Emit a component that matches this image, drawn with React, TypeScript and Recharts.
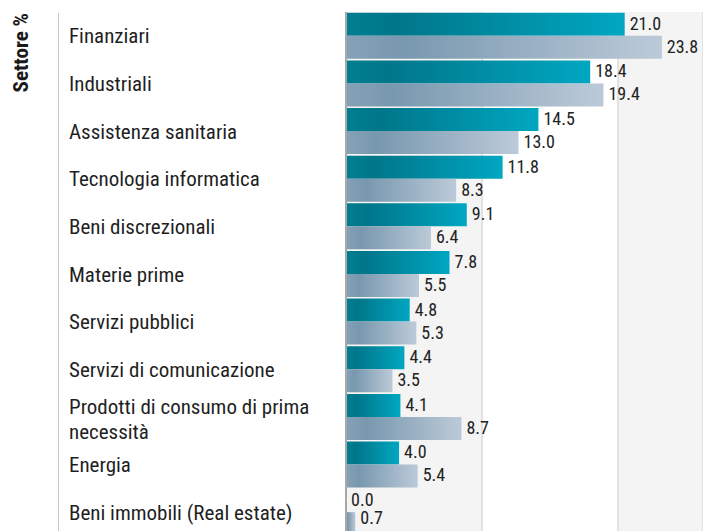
import React from "react";
import { BarChart, Bar, XAxis, YAxis, CartesianGrid, LabelList } from "recharts";

// Sector weights (%)
const sectors = [
  "Finanziari",
  "Industriali",
  "Assistenza sanitaria",
  "Tecnologia informatica",
  "Beni discrezionali",
  "Materie prime",
  "Servizi pubblici",
  "Servizi di comunicazione",
  "Prodotti di consumo di prima necessità",
  "Energia",
  "Beni immobili (Real estate)",
];
const fundValues = [21.0, 18.4, 14.5, 11.8, 9.1, 7.8, 4.8, 4.4, 4.1, 4.0, 0.0];
const indexValues = [23.8, 19.4, 13.0, 8.3, 6.4, 5.5, 5.3, 3.5, 8.7, 5.4, 0.7];
const gridTicks = [0, 10.25, 20.5];

const data = sectors.map((name, i) => ({ name, fund: fundValues[i], index: indexValues[i] }));

const FONT = "Roboto, sans-serif";
const STRETCH = "condensed";
const LABEL_SIZE = 21;
const LINE_H = 25.7;

// simple word wrap, measured on a canvas
let ctx: CanvasRenderingContext2D | null = null;
const wrap = (text: string, maxWidth: number) => {
  if (!ctx) {
    ctx = document.createElement("canvas").getContext("2d");
  }
  if (!ctx) return [text];
  ctx.font = `${LABEL_SIZE}px Roboto`;
  (ctx as any).fontStretch = STRETCH;
  const words = text.split(" ");
  const lines: string[] = [];
  let cur = "";
  words.forEach((w) => {
    const next = cur ? cur + " " + w : w;
    if (cur && ctx!.measureText(next).width > maxWidth) {
      lines.push(cur);
      cur = w;
    } else {
      cur = next;
    }
  });
  if (cur) lines.push(cur);
  return lines;
};

const SectorTick = (props: any) => {
  const { y, payload } = props;
  const lines = wrap(payload.value, 285);
  const n = lines.length;
  return (
    <text
      textAnchor="start"
      style={{ fontFamily: FONT, fontSize: LABEL_SIZE, fontStretch: STRETCH, fill: "#1f1f1f" }}
    >
      {lines.map((l, i) => (
        <tspan key={i} x={69} y={y + 7.5 + (i - (n - 1) / 2) * LINE_H + (n > 1 ? 2 : 0)}>
          {l}
        </tspan>
      ))}
    </text>
  );
};

const renderTitle = () => (
  <text
    x={28}
    y={13}
    transform="rotate(-90 28 13)"
    textAnchor="end"
    style={{ fontFamily: FONT, fontSize: 21, fontWeight: 700, fontStretch: STRETCH, fill: "#1a1a1a" }}
  >
    Settore %
  </text>
);

// value label to the right of the bar, kept inside the visible area
const renderValue = (props: any) => {
  const { x, y, width, height, value } = props;
  const cy = Math.min(Number(y) + Number(height) / 2 - 1, 518);
  return (
    <text
      x={Number(x) + Number(width) + 5}
      y={cy}
      dy="0.355em"
      textAnchor="start"
      style={{ fontFamily: FONT, fontSize: 18, fontStretch: STRETCH, fill: "#222" }}
    >
      {Number(value).toFixed(1)}
    </text>
  );
};

const App = () => {
  return (
    <div style={{ position: "fixed", left: 0, top: 0, width: 703, height: 531, overflow: "hidden", background: "#fff" }}>
      <div style={{ position: "absolute", left: 58, top: 13, width: 1, height: 520, background: "#c8c8c8" }} />
      <BarChart
        width={703}
        height={536}
        data={data}
        layout="vertical"
        margin={{ top: 12, right: 0, bottom: 0, left: 0 }}
        barCategoryGap={0.8}
        barGap={0}
      >
        <defs>
          <linearGradient id="gradFund" x1="0" y1="0" x2="1" y2="0">
            <stop offset="0%" stopColor="#007f90" />
            <stop offset="18%" stopColor="#00768a" />
            <stop offset="100%" stopColor="#00a7c1" />
          </linearGradient>
          <linearGradient id="gradIndex" x1="0" y1="0" x2="1" y2="0">
            <stop offset="0%" stopColor="#85a1b7" />
            <stop offset="18%" stopColor="#7898af" />
            <stop offset="100%" stopColor="#bccad8" />
          </linearGradient>
        </defs>
        <CartesianGrid
          horizontal={false}
          stroke="#e2e2e2"
          strokeWidth={2}
          verticalFill={["#f4f4f4", "#ffffff"]}
          fillOpacity={1}
        />
        <XAxis type="number" domain={[0, 26.9]} ticks={gridTicks} hide />
        <YAxis
          type="category"
          dataKey="name"
          width={346}
          tickLine={false}
          axisLine={{ stroke: "#a8a8a8", strokeWidth: 2 }}
          tick={<SectorTick />}
          interval={0}
          label={{ content: renderTitle }}
        />
        <Bar dataKey="fund" name="Fondo" fill="url(#gradFund)" minPointSize={0.01} isAnimationActive={false}>
          <LabelList dataKey="fund" content={renderValue} />
        </Bar>
        <Bar dataKey="index" name="Indice" fill="url(#gradIndex)" isAnimationActive={false}>
          <LabelList dataKey="index" content={renderValue} />
        </Bar>
      </BarChart>
    </div>
  );
};

export default App;
